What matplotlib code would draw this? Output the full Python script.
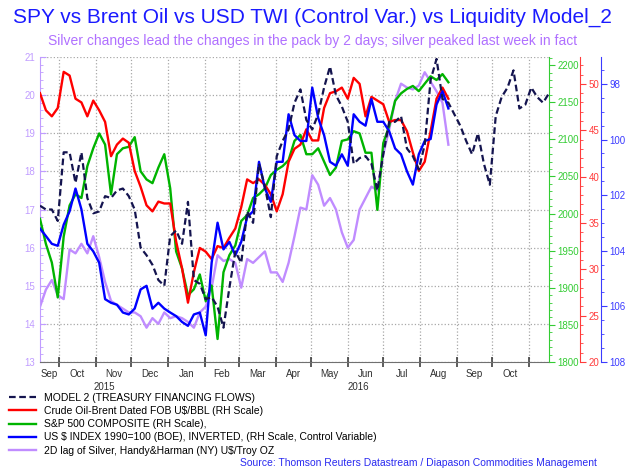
import numpy as np
import pandas as pd
import matplotlib
matplotlib.use("Agg")
import matplotlib.pyplot as plt
import matplotlib.dates as mdates
from matplotlib.ticker import MultipleLocator, FixedLocator, NullFormatter, FixedFormatter
from matplotlib.transforms import blended_transform_factory

plt.rcParams['font.family'] = ['Liberation Sans', 'DejaVu Sans']

# ---- data (one value every 5 days from 15 Sep 2015) ----
start = "2015-09-15"
end = "2016-11-18"

model2 = [17.1, 17.0, 17.0, 16.7, 18.5, 18.5, 17.7, 18.5, 17.3, 16.9,
          16.95, 17.35, 17.3, 17.5, 17.55, 17.35, 17.0, 16.0, 15.8, 15.55,
          15.15, 15.0, 16.3, 16.45, 16.1, 17.2, 15.15, 15.05, 14.65, 14.7,
          14.45, 13.9, 14.95, 15.9, 15.6, 16.95, 16.65, 18.2, 17.6, 16.8,
          18.4, 18.8, 19.1, 19.8, 20.15, 19.35, 19.1, 19.5, 20.2, 20.75,
          20.0, 19.7, 19.3, 18.2, 18.35, 18.4, 18.2, 17.5, 18.45, 19.3,
          19.3, 19.45, 18.6, 18.4, 18.05, 18.7, 20.4, 20.95, 19.9, 19.8,
          19.5, 19.2, 18.8, 18.45, 19.0, 18.2, 17.65, 19.45, 19.95, 20.2,
          20.65, 19.65, 19.75, 20.2, 19.95, 19.8, 20.05]

brent = [49.0, 47.15, 46.5, 47.4, 51.3, 50.9, 48.4, 48.0, 46.5, 48.2,
         47.15, 45.9, 42.2, 43.45, 44.1, 43.65, 40.6, 38.9, 36.9, 36.25,
         37.3, 37.1, 37.1, 33.0, 30.1, 26.4, 29.7, 32.3, 31.9, 31.1,
         32.5, 32.3, 33.4, 34.4, 36.7, 39.7, 39.3, 39.7, 39.1, 38.1,
         36.25, 38.1, 41.6, 43.0, 43.45, 45.1, 43.9, 43.9, 47.4, 49.0,
         49.2, 49.6, 48.4, 50.65, 50.0, 46.5, 48.6, 48.2, 47.8, 45.9,
         46.1, 46.1, 44.9, 42.6, 40.6, 41.6, 44.9, 48.4, 49.6, 48.4]

spx = [1993, 1959, 1934, 1887, 1969, 2011, 2026, 2021, 2064, 2088,
       2108, 2093, 2026, 2080, 2088, 2090, 2103, 2057, 2046, 2041,
       2062, 2080, 2034, 1949, 1926, 1890, 1898, 1918, 1882, 1903,
       1831, 1921, 1944, 1957, 1990, 1998, 2021, 2026, 2034, 2052,
       2059, 2064, 2072, 2098, 2106, 2080, 2080, 2088, 2070, 2052,
       2062, 2098, 2100, 2111, 2108, 2082, 2082, 2005, 2095, 2118,
       2152, 2162, 2168, 2172, 2165, 2175, 2185, 2180, 2188, 2177]

usd = [103.2, 103.47, 103.75, 103.82, 103.06, 102.58, 101.76, 102.51, 103.75, 104.02,
       104.43, 105.74, 105.87, 105.94, 106.22, 106.29, 106.08, 105.39, 105.26, 106.08,
       105.87, 106.08, 106.22, 106.35, 106.56, 106.70, 106.29, 106.22, 107.04, 104.43,
       102.99, 103.95, 103.68, 104.16, 103.68, 102.79, 102.58, 100.80, 101.76, 102.24,
       100.80, 100.80, 99.09, 99.84, 100.05, 100.05, 98.13, 99.22, 99.84, 100.80,
       100.94, 100.53, 100.94, 99.09, 99.36, 99.50, 98.54, 99.36, 99.36, 99.70,
       100.32, 100.53, 101.14, 101.62, 100.53, 100.05, 99.98, 98.74, 98.26, 98.88]

silver = [14.45, 14.9, 15.15, 14.75, 14.65, 15.95, 15.85, 16.1, 15.85, 16.3,
          15.75, 15.1, 14.6, 14.5, 14.4, 14.3, 14.3, 14.2, 13.9, 14.15,
          14.0, 14.3, 14.15, 14.2, 14.15, 14.05, 13.9, 14.3, 14.45, 14.95,
          15.8, 15.65, 15.7, 15.6, 14.95, 15.7, 15.6, 15.75, 15.9, 15.35,
          15.35, 15.1, 15.6, 16.3, 17.05, 17.0, 17.9, 17.65, 17.1, 17.3,
          17.0, 16.4, 16.0, 16.2, 17.0, 17.3, 17.6, 17.5, 18.45, 19.1,
          19.85, 20.3, 20.2, 20.15, 20.25, 20.6, 20.35, 20.1, 19.8, 18.7]

months = ["Sep", "Oct", "Nov", "Dec", "Jan", "Feb", "Mar", "Apr", "May",
          "Jun", "Jul", "Aug", "Sep", "Oct"]
years = ["2015", "2016"]

labels = ["MODEL 2 (TREASURY FINANCING FLOWS)",
          "Crude Oil-Brent Dated FOB U$/BBL (RH Scale)",
          "S&P 500 COMPOSITE (RH Scale),",
          "US $ INDEX 1990=100 (BOE), INVERTED, (RH Scale, Control Variable)",
          "2D lag of Silver, Handy&Harman (NY) U$/Troy OZ"]

model_dates = pd.date_range(start, periods=len(model2), freq="5D")
dates = pd.date_range(start, periods=len(brent), freq="5D")

# ---- figure ----
fig = plt.figure(figsize=(6.25, 4.7), dpi=100)
ax = fig.add_axes([0.064, 0.2298, 0.8144, 0.6489])
x0, x1 = pd.Timestamp(start), pd.Timestamp(end)

axg = ax.twinx()
axr = ax.twinx()
axb = ax.twinx()
axm = ax.twinx()
axr.spines['right'].set_position(('axes', 1.061))
axb.spines['right'].set_position(('axes', 1.102))

c_left = '#c09cff'
c_green = '#33cc33'
c_red = '#ff3b3b'
c_blue = '#3b3bff'

ls, = ax.plot(dates, silver, color='#c08cff', lw=1.7)
lr, = axr.plot(dates, brent, color='#ff0000', lw=1.7)
lg, = axg.plot(dates, spx, color='#00b400', lw=1.7)
lb, = axb.plot(dates, usd, color='#0000ff', lw=1.7)
lm, = axm.plot(model_dates, model2, color='#14144f', lw=1.6, ls=(0, (3, 1.6)))

ax.set_xlim(x0, x1)
ax.set_ylim(13, 21)
axm.set_ylim(13, 21)
axg.set_ylim(1800, 2211)
axr.set_ylim(20, 52.9)
axb.set_ylim(108, 97.03)

# left axis
ax.yaxis.set_major_locator(MultipleLocator(1))
ax.yaxis.set_minor_locator(MultipleLocator(0.2))
ax.tick_params(axis='y', which='both', colors=c_left, labelsize=7, direction='in')
ax.tick_params(axis='y', which='major', length=4)
ax.tick_params(axis='y', which='minor', length=2)
ax.spines['left'].set_color(c_left)
for s in ['top', 'right']:
    ax.spines[s].set_visible(False)
ax.spines['bottom'].set_color('#707070')

# right axes
for a, col, maj, mnr in [(axg, c_green, 50, 10), (axr, c_red, 5, 1), (axb, c_blue, 2, 0.5)]:
    for s in ['left', 'top', 'bottom']:
        a.spines[s].set_visible(False)
    a.spines['right'].set_color(col)
    a.yaxis.set_major_locator(MultipleLocator(maj))
    a.yaxis.set_minor_locator(MultipleLocator(mnr))
    a.tick_params(axis='y', which='both', colors=col, labelsize=7, pad=2)
    a.tick_params(axis='y', which='major', length=4)
    a.tick_params(axis='y', which='minor', length=2)
axm.set_axis_off()

# x axis: ticks at month starts, labels centred in each month
month_starts = pd.date_range("2015-09-01", "2016-12-01", freq="MS")
ax.xaxis.set_major_locator(FixedLocator(mdates.date2num(month_starts[1:-1])))
ax.xaxis.set_major_formatter(NullFormatter())
ax.tick_params(axis='x', which='major', direction='inout', length=7, width=1.1, color='#303030')

centers = []
for i in range(len(months)):
    a = max(month_starts[i], x0)
    b = min(month_starts[i + 1], x1)
    centers.append(a + (b - a) / 2)
ax.xaxis.set_minor_locator(FixedLocator(mdates.date2num(centers)))
ax.xaxis.set_minor_formatter(FixedFormatter(months))
ax.tick_params(axis='x', which='minor', length=0, labelsize=7, pad=5, labelcolor='#303030')

trans = blended_transform_factory(ax.transData, ax.transAxes)
ybreak = pd.Timestamp("2016-01-01")
for yr, (a, b) in zip(years, [(x0, ybreak), (ybreak, x1)]):
    ax.text(a + (b - a) / 2, -0.083, yr, transform=trans, ha='center', va='center',
            fontsize=7, color='#303030')

ax.grid(True, which='major', color='#a8a8a8', ls=':', lw=0.9)
ax.set_axisbelow(True)

# titles
fig.text(0.5, 1 - 17 / 470, "SPY vs Brent Oil vs USD TWI (Control Var.) vs Liquidity Model_2",
         ha='center', va='center', fontsize=15, color='#1a1aff')
fig.text(0.5, 1 - 41 / 470, "Silver changes lead the changes in the pack by 2 days; silver peaked last week in fact",
         ha='center', va='center', fontsize=10, color='#b070ff')

# legend
fig.legend([lm, lr, lg, lb, ls], labels, loc='upper left', bbox_to_anchor=(0.014, 1 - 393 / 470),
           frameon=False, fontsize=7.5, handlelength=2.6, handletextpad=0.8,
           labelspacing=0.3, borderaxespad=0, borderpad=0)

fig.text(0.955, 1 - 463 / 470, "Source: Thomson Reuters Datastream / Diapason Commodities Management",
         ha='right', va='center', fontsize=7.5, color='#2a2af0')

fig.savefig("out.png", dpi=100)
